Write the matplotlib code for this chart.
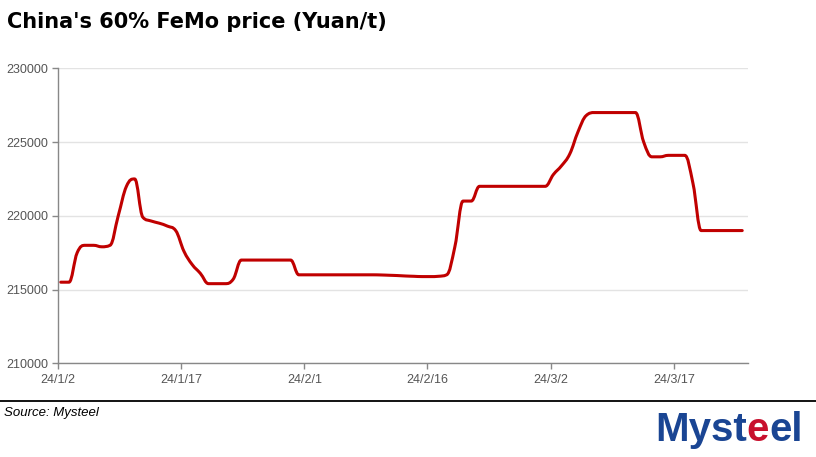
import pandas as pd
import matplotlib
matplotlib.use('Agg')
import matplotlib.pyplot as plt
import matplotlib.dates as mdates
from matplotlib.path import Path
from matplotlib.patches import PathPatch

# daily quotes, 2024-01-02 .. 2024-03-25
start_date = '2024-01-02 08:00'
prices = [
    215500, 215500, 217500, 218000, 218000, 217900, 218000, 220000, 222000, 222500,  # 1/2 - 1/11
    219900, 219650, 219500, 219300, 219000, 217600, 216700, 216100, 215400, 215400,  # 1/12 - 1/21
    215400, 215700, 217000, 217000, 217000, 217000, 217000, 217000, 217000, 216000,  # 1/22 - 1/31
    216000, 216000, 216000, 216000, 216000, 216000, 216000, 216000, 216000, 215990,  # 2/1 - 2/10
    215970, 215950, 215920, 215900, 215880, 215880, 215900, 216000, 217900, 221000,  # 2/11 - 2/20
    221000, 222000, 222000, 222000, 222000, 222000, 222000, 222000, 222000, 222000,  # 2/21 - 3/1
    222800, 223400, 224200, 225700, 226800, 227000, 227000, 227000, 227000, 227000,  # 3/2 - 3/11
    227000, 225000, 224000, 224000, 224100, 224100, 224100, 222200, 219000, 219000,  # 3/12 - 3/21
    219000, 219000, 219000, 219000,                                                  # 3/22 - 3/25
]
tick_dates = ['2024-01-02', '2024-01-17', '2024-02-01', '2024-02-16', '2024-03-02', '2024-03-17']
tick_labels = ['24/1/2', '24/1/17', '24/2/1', '24/2/16', '24/3/2', '24/3/17']
y_ticks = [210000, 215000, 220000, 225000, 230000]

dates = pd.date_range(start_date, periods=len(prices), freq='D')


def spline_path(xs, ys, smoothing=1.5):
    """Smooth path through every point, no false extremes (like a web chart 'spline')."""
    n = len(xs)
    left, right = [None] * n, [None] * n
    for i in range(n):
        x, y = xs[i], ys[i]
        if i == 0 or i == n - 1:
            left[i] = right[i] = (x, y)
            continue
        lx, ly = xs[i - 1], ys[i - 1]
        nx, ny = xs[i + 1], ys[i + 1]
        d = smoothing + 1
        lcx, lcy = (smoothing * x + lx) / d, (smoothing * y + ly) / d
        rcx, rcy = (smoothing * x + nx) / d, (smoothing * y + ny) / d
        corr = (rcy - lcy) * (rcx - x) / (rcx - lcx) + y - rcy
        lcy += corr
        rcy += corr
        if lcy > ly and lcy > y:
            lcy = max(ly, y)
            rcy = 2 * y - lcy
        elif lcy < ly and lcy < y:
            lcy = min(ly, y)
            rcy = 2 * y - lcy
        if rcy > ny and rcy > y:
            rcy = max(ny, y)
            lcy = 2 * y - rcy
        elif rcy < ny and rcy < y:
            rcy = min(ny, y)
            lcy = 2 * y - rcy
        left[i] = (lcx, lcy)
        right[i] = (rcx, rcy)
    verts = [(xs[0], ys[0])]
    codes = [Path.MOVETO]
    for i in range(1, n):
        verts += [right[i - 1], left[i], (xs[i], ys[i])]
        codes += [Path.CURVE4] * 3
    return Path(verts, codes)


fig = plt.figure(figsize=(8.16, 4.57), dpi=100)
ax = fig.add_axes([0.0711, 0.2050, 0.8452, 0.6455])

xnum = mdates.date2num(dates)
ax.add_patch(PathPatch(spline_path(list(xnum), prices), fill=False, edgecolor='#c00000',
                       lw=2.2, joinstyle='round', capstyle='round'))

ax.set_ylim(210000, 230000)
ax.set_xlim(pd.Timestamp('2024-01-02'), pd.Timestamp('2024-03-26'))
ax.xaxis_date()
ax.set_yticks(y_ticks)
ax.set_yticklabels([str(v) for v in y_ticks])
ax.set_xticks(pd.to_datetime(tick_dates))
ax.set_xticklabels(tick_labels)

for s in ['top', 'right']:
    ax.spines[s].set_visible(False)
for s in ['left', 'bottom']:
    ax.spines[s].set_color('#888888')
    ax.spines[s].set_linewidth(1.0)
ax.grid(axis='y', color='#e3e3e3', lw=1.0)
ax.set_axisbelow(True)
ax.tick_params(axis='both', colors='#888888', labelcolor='#555555', length=4, width=1.0)
ax.tick_params(axis='y', pad=3)
ax.tick_params(axis='x', pad=4)
for lab in ax.get_xticklabels() + ax.get_yticklabels():
    lab.set_family('Liberation Sans')
    lab.set_fontsize(9)

fig.text(0.009, 1 - 12 / 457, "China's 60% FeMo price (Yuan/t)", fontsize=15, fontweight='bold',
         family='DejaVu Sans', va='top', ha='left', color='black')

# footer rule and source
fig.add_artist(plt.Line2D([0, 1], [1 - 400.5 / 457, 1 - 400.5 / 457], color='black', lw=1.3))
fig.text(0.005, 1 - 416 / 457, 'Source: Mysteel', fontsize=9.5, style='italic',
         family=['Liberation Sans Narrow', 'Liberation Sans'], va='baseline', ha='left')

# logo text
blue = '#1a4593'
t1 = fig.text(655 / 816, 1 - 449 / 457, 'Myst', fontsize=29, fontweight='bold',
              family='Liberation Sans', color=blue, va='bottom', ha='left')
t2 = plt.annotate('e', xy=(1, 0), xycoords=t1, fontsize=29, fontweight='bold',
                  family='Liberation Sans', color='#c8102e', va='bottom', ha='left')
plt.annotate('el', xy=(1, 0), xycoords=t2, fontsize=29, fontweight='bold',
             family='Liberation Sans', color=blue, va='bottom', ha='left')

fig.savefig('out.png', dpi=100)
